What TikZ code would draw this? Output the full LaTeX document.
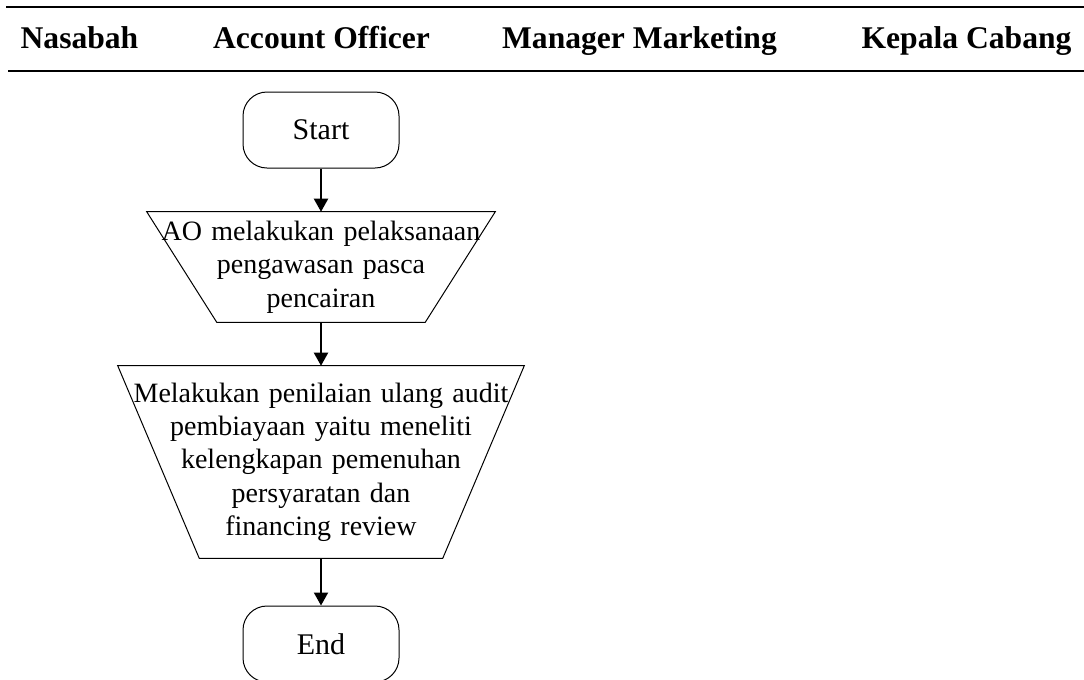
\documentclass[tikz,border=0pt]{standalone}
\usepackage{fontspec}
\setmainfont{Liberation Serif}
\usetikzlibrary{arrows.meta,calc}
\begin{document}
\begin{tikzpicture}[x=0.75pt,y=-0.75pt,
	head/.style={font=\fontsize{23.7pt}{28pt}\selectfont\bfseries,anchor=base,inner sep=0},
	term/.style={draw,line width=0.75pt,rounded corners=18pt,minimum width=117pt,minimum height=57pt,inner sep=0,font=\fontsize{22.5pt}{25pt}\selectfont},
	proc/.style={inner sep=0,align=center,font=\fontsize{21pt}{25pt}\selectfont},
	arr/.style={line width=1.5pt,-{Triangle[length=9.75pt,width=10.5pt]}}]
\useasboundingbox (0,0) rectangle (1084,679);
\draw[line width=1.5pt] (6,7) -- (1084,7);
\draw[line width=1.5pt] (8,71) -- (1084,71);
\node[head] (nasabah) at (79.5,48) {Nasabah};
\node[head] (ao) at (321.5,48) {Account Officer};
\node[head] (mm) at (639.5,48) {Manager Marketing};
\node[head] (kc) at (966.5,48) {Kepala Cabang};
\node[term] (start) at (321,130) {Start};
\node[proc,text width=261pt,minimum height=82.5pt] (pengawasan) at (321,267) {AO melakukan pelaksanaan\\pengawasan pasca\\pencairan};
\node[proc,text width=304.5pt,minimum height=144pt] (review) at (321,462) {Melakukan penilaian ulang audit\\pembiayaan yaitu meneliti\\kelengkapan pemenuhan\\persyaratan dan\\financing review};
\node[term] (end) at (321,644) {End};
\foreach \n/\d in {pengawasan/70,review/81.5}
	\draw[line width=0.75pt] (\n.north west) -- (\n.north east) -- ($(\n.south east)+(-\d,0)$) -- ($(\n.south west)+(\d,0)$) -- cycle;
\draw[arr] (start) -- (pengawasan);
\draw[arr] (pengawasan) -- (review);
\draw[arr] (review) -- (end);
\end{tikzpicture}
\end{document}
